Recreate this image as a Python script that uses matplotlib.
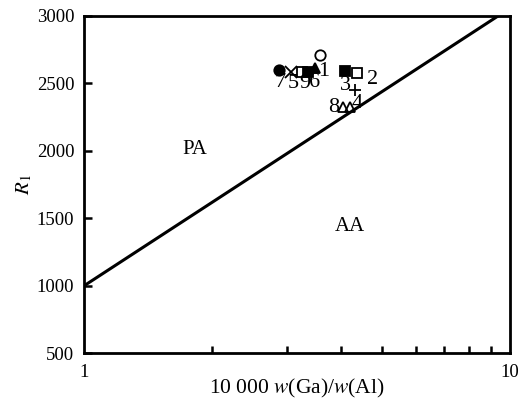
import matplotlib.pyplot as plt
from matplotlib.ticker import FixedLocator, NullFormatter

plt.rcParams['font.family'] = ['Liberation Serif', 'DejaVu Serif']
plt.rcParams['mathtext.fontset'] = 'stix'

# boundary line between PA and AA
line_x = [1, 9.37]
line_y = [1000, 3000]

# sample points (x = 10000 w(Ga)/w(Al), y = R1)
pt_x = [2.87, 3.06, 3.24, 3.36, 3.49, 3.58, 4.10, 4.38, 4.33, 4.06, 4.20]
pt_y = [2600, 2587, 2583, 2585, 2612, 2711, 2595, 2575, 2452, 2328, 2328]
pt_marker = ['o', 'x', 's', 's', '^', 'o', 's', 's', '+', '^', '^']
pt_fill = ['k', 'none', 'none', 'k', 'k', 'none', 'k', 'none', 'none', 'none', 'none']

# sample numbers
lab_text = ['7', '5', '9', '6', '1', '3', '2', '8', '4']
lab_x = [2.88, 3.10, 3.30, 3.48, 3.66, 4.10, 4.75, 3.86, 4.37]
lab_y = [2508, 2500, 2500, 2508, 2587, 2483, 2526, 2323, 2348]

fig = plt.figure(figsize=(5.26, 4), dpi=100)
ax = fig.add_axes([0.1597, 0.1168, 0.81, 0.8432])

ax.plot(line_x, line_y, color='k', lw=2.2)

for x, y, m, f in zip(pt_x, pt_y, pt_marker, pt_fill):
    if m in ('x', '+'):
        ax.plot(x, y, marker=m, color='k', ms=8, mew=1.3, ls='none')
    else:
        ax.plot(x, y, marker=m, mfc=f, mec='k', ms=7.5, mew=1.3, ls='none')

for t, x, y in zip(lab_text, lab_x, lab_y):
    ax.text(x, y, t, fontsize=16, ha='center', va='center')

ax.text(1.82, 2007, 'PA', fontsize=15, ha='center', va='center')
ax.text(4.21, 1440, 'AA', fontsize=15, ha='center', va='center')

ax.set_xscale('log')
ax.set_xlim(1, 10)
ax.set_ylim(500, 3000)
ax.xaxis.set_major_locator(FixedLocator([1, 10]))
ax.set_xticklabels(['1', '10'])
ax.xaxis.set_minor_locator(FixedLocator([2, 3, 4, 5, 6, 7, 8, 9]))
ax.xaxis.set_minor_formatter(NullFormatter())
ax.set_yticks([500, 1000, 1500, 2000, 2500, 3000])

ax.tick_params(axis='both', which='both', direction='in', width=1.8, labelsize=13.5)
ax.tick_params(axis='x', which='major', length=0, pad=8)
ax.tick_params(axis='x', which='minor', length=5)
ax.tick_params(axis='y', which='major', length=6, pad=7)
for s in ax.spines.values():
    s.set_linewidth(2)

ax.set_xlabel(r'10 000 $w$(Ga)/$w$(Al)', fontsize=15.5, labelpad=-3)
ax.set_ylabel(r'$R_1$', fontsize=15, labelpad=2)

fig.savefig('out.png', dpi=100)
